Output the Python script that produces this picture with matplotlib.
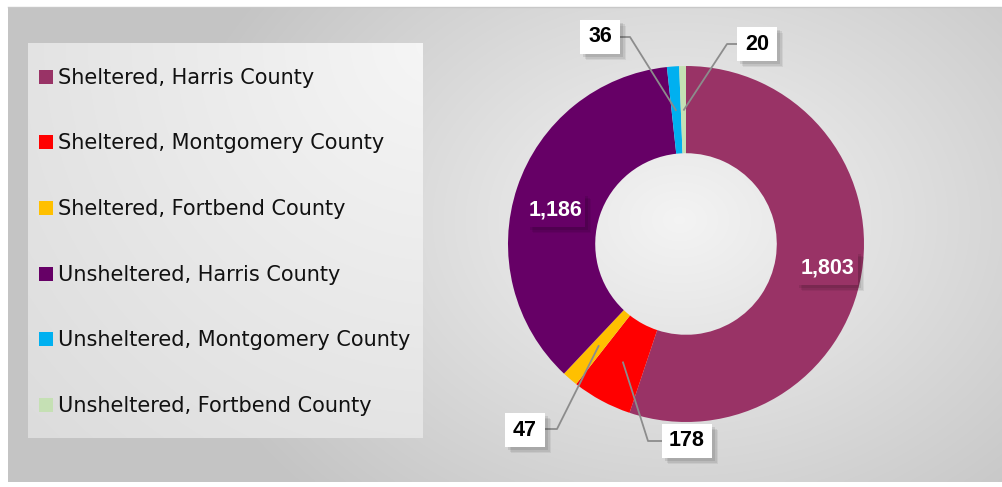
import numpy as np
import matplotlib
matplotlib.use("Agg")
import matplotlib.pyplot as plt
from matplotlib.patches import Rectangle

categories = ["Sheltered, Harris County", "Sheltered, Montgomery County",
              "Sheltered, Fortbend County", "Unsheltered, Harris County",
              "Unsheltered, Montgomery County", "Unsheltered, Fortbend County"]
values = [1803, 178, 47, 1186, 36, 20]
value_labels = ["1,803", "178", "47", "1,186", "36", "20"]
colors = ["#993366", "#FF0000", "#FFC000", "#660066", "#00B0F0", "#C5E0B4"]

W, H = 1003, 487
fig = plt.figure(figsize=(W / 100, H / 100), dpi=100)
fig.patch.set_facecolor("white")

# background axes in pixel coords
bg = fig.add_axes([0, 0, 1, 1])
bg.axis("off")

# radial gradient chart area
x0, x1, y0, y1 = 8, 1003, 7, 482
xx, yy = np.meshgrid(np.linspace(x0, x1, 400), np.linspace(y0, y1, 200))
cx, cy = 680, 220
d = np.sqrt(((xx - cx) / 560.0) ** 2 + ((yy - cy) / 430.0) ** 2)
d = np.clip(d, 0, 1)
shade = np.maximum(0.955 - 0.2 * d, 0.77)
img = np.dstack([shade, shade, shade])
bg.imshow(img, extent=[x0, x1, y1, y0], aspect="auto", interpolation="bilinear", zorder=0)
bg.plot([x0, x1], [y0, y0], color="#c8c8c8", lw=1, zorder=1)

# legend box with lighter gradient
lx0, lx1, ly0, ly1 = 28, 423, 43, 438
lxx, lyy = np.meshgrid(np.linspace(lx0, lx1, 200), np.linspace(ly0, ly1, 200))
ld = np.sqrt(((lxx - 440) / 560.0) ** 2 + ((lyy - 40) / 560.0) ** 2)
ls = 0.965 - 0.10 * np.clip(ld, 0, 1)
bg.imshow(np.dstack([ls, ls, ls]), extent=[lx0, lx1, ly1, ly0], aspect="auto",
          interpolation="bilinear", zorder=1)
bg.set_xlim(0, W)
bg.set_ylim(H, 0)

legend_y = [77, 142, 208, 274, 339, 405]
for name, col, yv in zip(categories, colors, legend_y):
    bg.add_patch(Rectangle((39, yv - 7), 14, 14, facecolor=col, edgecolor="none", zorder=2))
    bg.text(58, yv + 1, name, fontsize=15, family="DejaVu Sans",
            color="#111111", va="center", ha="left", zorder=3)

# donut axes
R = 178.0
pcx, pcy = 686, 244
ax = fig.add_axes([(pcx - R) / W, (H - pcy - R) / H, 2 * R / W, 2 * R / H])
wedges, _ = ax.pie(values, colors=colors, startangle=90, counterclock=False,
                   radius=1.0, wedgeprops=dict(width=0.49, edgecolor="none"))
ax.set_xlim(-1, 1)
ax.set_ylim(-1, 1)
ax.axis("off")

def px2d(px, py):
    return ((px - pcx) / R, (pcy - py) / R)

# label boxes: center pixel, width, height
label_boxes = {
    0: (827, 268, 62, 34),
    3: (556, 210, 58, 34),
    4: (600, 37, 40, 34),
    5: (757, 44, 40, 34),
    2: (525, 430, 40, 34),
    1: (687, 441, 50, 34),
}
box_fill = {0: colors[0], 3: colors[3]}
# leader elbows (pixel)
elbows = {4: ((620, 37), (630, 37)), 5: ((737, 44), (727, 44)),
          2: ((545, 429), (557, 429)), 1: ((662, 441), (648, 441))}

for i, (cxp, cyp, bw, bh) in label_boxes.items():
    fill = box_fill.get(i, "white")
    tcol = "white" if i in box_fill else "black"
    bx, by = px2d(cxp - bw / 2, cyp + bh / 2)
    # soft shadow
    for k, a in enumerate([0.06, 0.07, 0.09]):
        off = 6 - k * 1.5
        ax.add_patch(Rectangle((bx + off / R, by - off / R), bw / R, bh / R,
                               facecolor="black", alpha=a, edgecolor="none",
                               clip_on=False, zorder=4))
    ax.add_patch(Rectangle((bx, by), bw / R, bh / R, facecolor=fill, edgecolor="none",
                           clip_on=False, zorder=5))
    tx, ty = px2d(cxp, cyp)
    ax.text(tx, ty, value_labels[i], color=tcol, fontsize=15.5, fontweight="bold",
            family="Liberation Sans", ha="center", va="center", zorder=6, clip_on=False)

# leader lines
for i, (p_a, p_b) in elbows.items():
    th = np.deg2rad((wedges[i].theta1 + wedges[i].theta2) / 2)
    ex, ey = 0.75 * np.cos(th), 0.75 * np.sin(th)
    ax_, ay_ = px2d(*p_a)
    bx_, by_ = px2d(*p_b)
    ax.plot([ax_, bx_, ex], [ay_, by_, ey], color="#8c8c8c", lw=1.3, zorder=3.5,
            clip_on=False, solid_capstyle="butt")

fig.savefig("out.png", dpi=100)
